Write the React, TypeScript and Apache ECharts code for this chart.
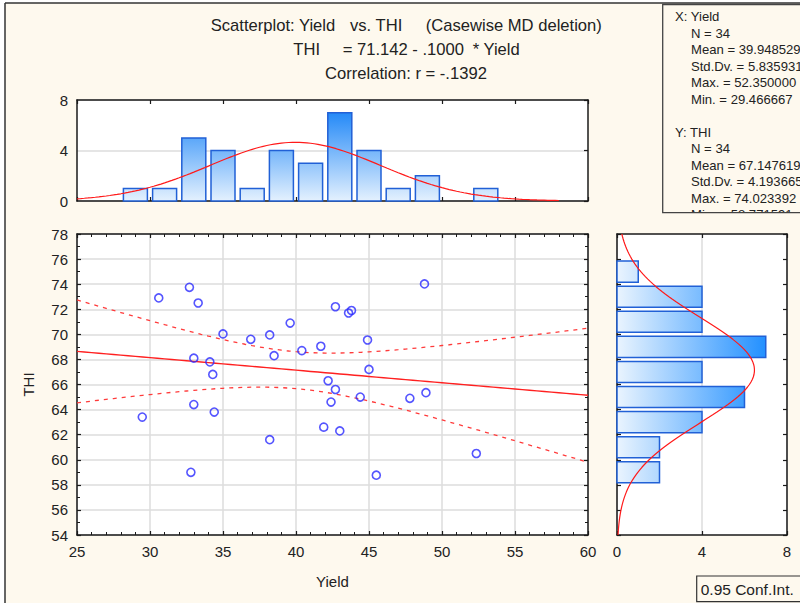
import React, { useEffect, useRef } from 'react';
import * as echarts from 'echarts';

// ---- data ----
const yieldValues = [30.6, 32.7, 33.3, 35.0, 36.9, 38.2, 39.6, 38.5, 40.4, 41.7, 33.0, 34.1, 34.3, 33.0, 34.4, 29.47, 32.8, 38.2, 41.9, 48.8, 42.7, 43.6, 43.8, 44.9, 45.0, 42.2, 42.7, 42.4, 44.4, 47.8, 48.9, 43.0, 45.5, 52.35];
const thiValues = [72.9, 73.75, 72.5, 70.03, 69.6, 69.95, 70.9, 68.3, 68.7, 69.05, 68.1, 67.8, 66.8, 64.4, 63.8, 63.4, 59.0, 61.6, 62.6, 74.02, 72.2, 71.7, 71.9, 69.55, 67.2, 66.3, 65.6, 64.6, 65.0, 64.9, 65.35, 62.3, 58.77, 60.5];

const yieldBinCenters = [29, 31, 33, 35, 37, 39, 41, 43, 45, 47, 49, 51, 53];
const yieldBinCounts = [1, 1, 5, 4, 1, 4, 3, 7, 4, 1, 2, 0, 1];
const thiBinCenters = [59, 61, 63, 65, 67, 69, 71, 73, 75];
const thiBinCounts = [2, 2, 4, 6, 4, 7, 4, 4, 1];
const binWidth = 2;

const xTicks = [25, 30, 35, 40, 45, 50, 55, 60];
const yTicks = [54, 56, 58, 60, 62, 64, 66, 68, 70, 72, 74, 76, 78];
const histTicks = [0, 4, 8];

const nObs = 34;
const xMean = 39.948529;
const xSd = 5.835931;
const yMean = 67.147619;
const ySd = 4.193665;
const intercept = 71.142;
const slope = -0.1;
const corr = -0.1392;
const tCrit = 2.0369; // t(0.975, 32)

const titleLines = ['Scatterplot: Yield', 'vs. THI', '(Casewise MD deletion)'];
const eqParts = ['THI', '= 71.142 - .1000', '* Yield'];
const corrText = 'Correlation: r = -.1392';
const xStatLines = ['X: Yield', 'N = 34', 'Mean = 39.948529', 'Std.Dv. = 5.835931', 'Max. = 52.350000', 'Min. = 29.466667'];
const yStatLines = ['Y: THI', 'N = 34', 'Mean = 67.147619', 'Std.Dv. = 4.193665', 'Max. = 74.023392', 'Min. = 58.771591'];
const legendText = '0.95 Conf.Int.';

const FONT = '"Liberation Sans", Arial, sans-serif';

function buildOption() {
  const xMin = xTicks[0];
  const xMax = xTicks[xTicks.length - 1];
  const yMin = yTicks[0];
  const yMax = yTicks[yTicks.length - 1];

  // regression + confidence band
  const sRes = ySd * Math.sqrt(1 - corr * corr) * Math.sqrt((nObs - 1) / (nObs - 2));
  const sxx = (nObs - 1) * xSd * xSd;
  const fit: number[][] = [];
  const ciUp: number[][] = [];
  const ciLo: number[][] = [];
  for (let x = xMin; x <= xMax + 1e-9; x += 0.5) {
    const yh = intercept + slope * x;
    const h = tCrit * sRes * Math.sqrt(1 / nObs + ((x - xMean) * (x - xMean)) / sxx);
    fit.push([x, yh]);
    ciUp.push([x, yh + h]);
    ciLo.push([x, yh - h]);
  }

  // normal curves
  const topCurve: number[][] = [];
  const topScale = (nObs * binWidth) / (xSd * Math.sqrt(2 * Math.PI));
  for (let x = xMin; x <= 58 + 1e-9; x += 0.25) {
    const z = (x - xMean) / xSd;
    topCurve.push([x, topScale * Math.exp(-0.5 * z * z)]);
  }
  const rightCurve: number[][] = [];
  const rightScale = (nObs * binWidth) / (ySd * Math.sqrt(2 * Math.PI));
  for (let y = yMin; y <= yMax + 1e-9; y += 0.2) {
    const z = (y - yMean) / ySd;
    rightCurve.push([rightScale * Math.exp(-0.5 * z * z), y]);
  }

  const axisLine = { show: true, onZero: false, lineStyle: { color: '#1a1a1a', width: 1.5 } };
  const tick = { show: true, inside: true, length: 4, lineStyle: { color: '#1a1a1a', width: 1.2 } };
  const minor = (n: number) => ({ show: true, splitNumber: n, length: 3, lineStyle: { color: '#1a1a1a', width: 1 } });
  const label = { show: true, color: '#222', fontSize: 15, fontFamily: FONT, margin: 9 };
  const noLabel = { show: false };
  const gridLine = { show: true, lineStyle: { color: '#dcdcdc', width: 1.5 } };
  const noSplit = { show: false };
  const nameStyle = { color: '#222', fontSize: 15, fontFamily: FONT };

  const topGrad = new echarts.graphic.LinearGradient(0, 108, 0, 201, [
    { offset: 0, color: '#1a84f7' },
    { offset: 1, color: '#e4f1fe' },
  ], true);
  const rightGrad = new echarts.graphic.LinearGradient(617, 0, 772, 0, [
    { offset: 0, color: '#eaf4fe' },
    { offset: 1, color: '#1a8cff' },
  ], true);

  const statFont = `13.1px ${FONT}`;
  const statsText: any[] = [];
  xStatLines.forEach((t, i) => {
    statsText.push({ type: 'text', z: 101, x: i === 0 ? 675 : 691, y: 16.5 + i * 16.5, style: { text: t, font: statFont, fill: '#222', textVerticalAlign: 'middle', verticalAlign: 'middle' } });
  });
  yStatLines.forEach((t, i) => {
    statsText.push({ type: 'text', z: 101, x: i === 0 ? 675 : 691, y: 132 + i * 16.5, style: { text: t, font: statFont, fill: '#222', textVerticalAlign: 'middle', verticalAlign: 'middle' } });
  });

  const tTxt = (text: string, x: number, y: number) => ({
    type: 'text', z: 50, x, y,
    style: { text, font: `16.6px ${FONT}`, fill: '#222', textVerticalAlign: 'middle', verticalAlign: 'middle' },
  });

  return {
    animation: false,
    backgroundColor: '#fef9ee',
    grid: [
      { left: 77, top: 100, width: 511, height: 101, show: true, backgroundColor: '#ffffff', borderWidth: 0 },
      { left: 77, top: 234, width: 511, height: 301, show: true, backgroundColor: '#ffffff', borderWidth: 0 },
      { left: 617, top: 234, width: 170, height: 301, show: true, backgroundColor: '#ffffff', borderWidth: 0 },
    ],
    xAxis: [
      { gridIndex: 0, type: 'value', min: xMin, max: xMax, interval: 5, position: 'bottom', axisLine, axisTick: tick, axisLabel: noLabel, splitLine: noSplit },
      { gridIndex: 0, type: 'value', min: xMin, max: xMax, interval: 5, position: 'top', axisLine, axisTick: tick, axisLabel: noLabel, splitLine: noSplit },
      {
        gridIndex: 1, type: 'value', min: xMin, max: xMax, interval: 5, position: 'bottom', axisLine, axisTick: tick, minorTick: minor(5),
        axisLabel: label, splitLine: gridLine, name: 'Yield', nameLocation: 'middle', nameGap: 39, nameTextStyle: nameStyle,
      },
      { gridIndex: 1, type: 'value', min: xMin, max: xMax, interval: 5, position: 'top', axisLine, axisTick: tick, minorTick: minor(5), axisLabel: noLabel, splitLine: noSplit },
      { gridIndex: 2, type: 'value', min: histTicks[0], max: histTicks[2], interval: 4, position: 'bottom', axisLine, axisTick: tick, axisLabel: label, splitLine: gridLine },
      { gridIndex: 2, type: 'value', min: histTicks[0], max: histTicks[2], interval: 4, position: 'top', axisLine, axisTick: tick, axisLabel: noLabel, splitLine: noSplit },
    ],
    yAxis: [
      { gridIndex: 0, type: 'value', min: histTicks[0], max: histTicks[2], interval: 4, position: 'left', axisLine, axisTick: { show: false }, axisLabel: label, splitLine: gridLine },
      { gridIndex: 0, type: 'value', min: histTicks[0], max: histTicks[2], interval: 4, position: 'right', axisLine, axisTick: tick, axisLabel: noLabel, splitLine: noSplit },
      {
        gridIndex: 1, type: 'value', min: yMin, max: yMax, interval: 2, position: 'left', axisLine, axisTick: tick, minorTick: minor(2),
        axisLabel: label, splitLine: gridLine, name: 'THI', nameLocation: 'middle', nameGap: 41, nameTextStyle: nameStyle,
      },
      { gridIndex: 1, type: 'value', min: yMin, max: yMax, interval: 2, position: 'right', axisLine, axisTick: tick, minorTick: minor(2), axisLabel: noLabel, splitLine: noSplit },
      { gridIndex: 2, type: 'value', min: yMin, max: yMax, interval: 2, position: 'left', axisLine, axisTick: tick, axisLabel: noLabel, splitLine: noSplit },
      { gridIndex: 2, type: 'value', min: yMin, max: yMax, interval: 2, position: 'right', axisLine, axisTick: tick, axisLabel: noLabel, splitLine: noSplit },
    ],
    series: [
      {
        type: 'custom', xAxisIndex: 0, yAxisIndex: 0, z: 3,
        data: yieldBinCenters.map((c, i) => [c, yieldBinCounts[i]]),
        encode: { x: 0, y: 1 },
        renderItem: (_p: any, api: any) => {
          const c = api.value(0);
          const n = api.value(1);
          if (!n) return { type: 'group', children: [] };
          const p0 = api.coord([c - binWidth / 2, n]);
          const p1 = api.coord([c + binWidth / 2, 0]);
          const inset = 2.6;
          return {
            type: 'rect',
            shape: { x: p0[0] + inset, y: p0[1], width: p1[0] - p0[0] - 2 * inset, height: p1[1] - p0[1] },
            style: { fill: topGrad, stroke: '#2160d6', lineWidth: 1.5 },
          };
        },
      },
      {
        type: 'line', xAxisIndex: 0, yAxisIndex: 0, z: 4, showSymbol: false, symbol: 'none', data: topCurve,
        lineStyle: { color: '#ff1a1a', width: 1.2 },
      },
      {
        type: 'line', xAxisIndex: 2, yAxisIndex: 2, z: 3, showSymbol: false, symbol: 'none', data: ciUp,
        lineStyle: { color: '#ff3b3b', width: 1.3, type: [4, 5] },
      },
      {
        type: 'line', xAxisIndex: 2, yAxisIndex: 2, z: 3, showSymbol: false, symbol: 'none', data: ciLo,
        lineStyle: { color: '#ff3b3b', width: 1.3, type: [4, 5] },
      },
      {
        type: 'line', xAxisIndex: 2, yAxisIndex: 2, z: 3, showSymbol: false, symbol: 'none', data: fit,
        lineStyle: { color: '#ff2020', width: 1.4 },
      },
      {
        type: 'scatter', xAxisIndex: 2, yAxisIndex: 2, z: 5, symbol: 'circle', symbolSize: 8,
        data: yieldValues.map((x, i) => [x, thiValues[i]]),
        itemStyle: { color: 'rgba(0,0,0,0)', borderColor: '#2b2bff', borderWidth: 1.6 },
      },
      {
        type: 'custom', xAxisIndex: 4, yAxisIndex: 4, z: 3,
        data: thiBinCenters.map((c, i) => [thiBinCounts[i], c]),
        encode: { x: 0, y: 1 },
        renderItem: (_p: any, api: any) => {
          const n = api.value(0);
          const c = api.value(1);
          if (!n) return { type: 'group', children: [] };
          const p0 = api.coord([0, c + binWidth / 2]);
          const p1 = api.coord([n, c - binWidth / 2]);
          const inset = 2;
          return {
            type: 'rect',
            shape: { x: p0[0], y: p0[1] + inset, width: p1[0] - p0[0], height: p1[1] - p0[1] - 2 * inset },
            style: { fill: rightGrad, stroke: '#2160d6', lineWidth: 1.5 },
          };
        },
      },
      {
        type: 'line', xAxisIndex: 4, yAxisIndex: 4, z: 4, showSymbol: false, symbol: 'none', data: rightCurve,
        lineStyle: { color: '#ff1a1a', width: 1.2 },
      },
    ],
    graphic: [
      { type: 'rect', z: 40, shape: { x: 0, y: 0, width: 5, height: 603 }, style: { fill: '#ffffff' } },
      { type: 'rect', z: 40, shape: { x: 0, y: 0, width: 800, height: 3 }, style: { fill: '#ffffff' } },
      { type: 'line', z: 41, shape: { x1: 5, y1: 3, x2: 800, y2: 3 }, style: { stroke: '#333', lineWidth: 1.5 } },
      { type: 'line', z: 41, shape: { x1: 5, y1: 3, x2: 5, y2: 603 }, style: { stroke: '#333', lineWidth: 1.5 } },
      tTxt(titleLines[0], 210.7, 25),
      tTxt(titleLines[1], 350, 25),
      tTxt(titleLines[2], 425.7, 25),
      tTxt(eqParts[0], 293.3, 49.5),
      tTxt(eqParts[1], 342.7, 49.5),
      tTxt(eqParts[2], 472.7, 49.5),
      tTxt(corrText, 325, 73.5),
      { type: 'rect', z: 100, shape: { x: 662.7, y: 4.5, width: 150, height: 208 }, style: { fill: '#fef9ee' } },
      ...statsText,
      { type: 'rect', z: 102, shape: { x: 662, y: 212.7, width: 140, height: 18 }, style: { fill: '#fef9ee' } },
      { type: 'rect', z: 103, shape: { x: 662.7, y: 4.5, width: 150, height: 208.2 }, style: { fill: 'none', stroke: '#444', lineWidth: 1.3 } },
      { type: 'rect', z: 100, shape: { x: 696.7, y: 576, width: 120, height: 25.7 }, style: { fill: '#fef9ee', stroke: '#333', lineWidth: 1.2 } },
      { type: 'text', z: 101, x: 700.7, y: 589, style: { text: legendText, font: `15.5px ${FONT}`, fill: '#222', textVerticalAlign: 'middle', verticalAlign: 'middle' } },
    ],
  };
}

export default function App() {
  const ref = useRef<HTMLDivElement>(null);
  useEffect(() => {
    if (!ref.current) return;
    const chart = echarts.init(ref.current, undefined, { renderer: 'svg' });
    chart.setOption(buildOption() as any);
    return () => chart.dispose();
  }, []);
  return <div ref={ref} style={{ position: 'absolute', left: 0, top: 0, width: 800, height: 603 }} />;
}
